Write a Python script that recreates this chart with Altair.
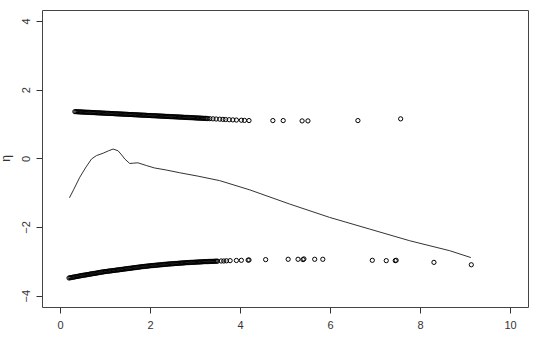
import altair as alt
import pandas as pd

# upper band of points (dense part then sparse tail)
top_x = [0.33,0.38,0.43,0.48,0.53,0.58,0.63,0.68,0.73,0.78,0.83,0.88,0.93,0.98,1.03,1.08,1.13,1.18,1.23,1.28,
         1.33,1.38,1.43,1.48,1.53,1.58,1.63,1.68,1.73,1.78,1.83,1.88,1.93,1.98,2.03,2.08,2.13,2.18,2.23,2.28,
         2.33,2.38,2.43,2.48,2.53,2.58,2.63,2.68,2.73,2.78,2.83,2.88,2.93,2.98,3.03,3.08,3.13,3.18,3.23,3.28,
         3.33,3.40,3.47,3.55,3.62,3.68,3.76,3.84,3.92,4.03,4.10,4.20,4.73,4.96,5.38,5.51,6.62,7.57]
top_y = [1.360,1.357,1.353,1.350,1.346,1.343,1.340,1.336,1.333,1.329,1.326,1.323,1.319,1.316,1.312,1.309,1.306,1.302,1.299,1.295,
         1.292,1.289,1.285,1.282,1.278,1.275,1.272,1.268,1.265,1.261,1.258,1.255,1.251,1.248,1.244,1.241,1.238,1.234,1.231,1.227,
         1.224,1.221,1.217,1.214,1.210,1.207,1.204,1.200,1.197,1.193,1.190,1.187,1.183,1.180,1.176,1.173,1.170,1.166,1.163,1.159,
         1.155,1.150,1.145,1.140,1.135,1.130,1.125,1.120,1.115,1.110,1.105,1.100,1.100,1.100,1.090,1.090,1.100,1.150]
# extra points filling the dense part of the upper band
top2_x = [0.355,0.405,0.455,0.505,0.555,0.605,0.655,0.705,0.755,0.805,0.855,0.905,0.955,1.005,1.055,1.105,1.155,1.205,1.255,1.305,
          1.355,1.405,1.455,1.505,1.555,1.605,1.655,1.705,1.755,1.805,1.855,1.905,1.955,2.005,2.055,2.105,2.155,2.205,2.255,2.305,
          2.355,2.405,2.455,2.505,2.555,2.605,2.655,2.705,2.755,2.805,2.855,2.905,2.955,3.005,3.055,3.105,3.155,3.205,3.255]
top2_y = [1.3585,1.355,1.3515,1.348,1.3445,1.3415,1.338,1.3345,1.331,1.3275,1.3245,1.321,1.3175,1.314,1.3105,1.3075,1.304,1.3005,1.297,1.2935,
          1.2905,1.287,1.2835,1.280,1.2765,1.2735,1.270,1.2665,1.263,1.2595,1.2565,1.253,1.2495,1.246,1.2425,1.2395,1.236,1.2325,1.229,1.2255,
          1.2225,1.219,1.2155,1.212,1.2085,1.2055,1.202,1.1985,1.195,1.1915,1.1885,1.185,1.1815,1.178,1.1745,1.1715,1.168,1.1645,1.161]

# lower band of points
bot_x = [0.20,0.25,0.30,0.35,0.40,0.45,0.50,0.55,0.60,0.65,0.70,0.75,0.80,0.85,0.90,0.95,1.00,1.05,1.10,1.15,
         1.20,1.25,1.30,1.35,1.40,1.45,1.50,1.55,1.60,1.65,1.70,1.75,1.80,1.85,1.90,1.95,2.00,2.05,2.10,2.15,
         2.20,2.25,2.30,2.35,2.40,2.45,2.50,2.55,2.60,2.65,2.70,2.75,2.80,2.85,2.90,2.95,3.00,3.05,3.10,3.15,
         3.20,3.25,3.30,3.35,3.40,3.45,3.50,
         3.58,3.64,3.70,3.78,3.92,4.03,4.18,4.20,4.57,5.07,5.29,5.40,5.42,5.66,5.84,6.94,7.25,7.45,7.47,8.31,9.14]
bot_y = [-3.485,-3.472,-3.460,-3.447,-3.435,-3.422,-3.410,-3.400,-3.390,-3.377,-3.365,-3.355,-3.345,-3.332,-3.320,-3.310,-3.300,-3.291,-3.282,-3.274,
         -3.265,-3.256,-3.248,-3.239,-3.230,-3.221,-3.212,-3.204,-3.195,-3.186,-3.178,-3.169,-3.160,-3.152,-3.145,-3.138,-3.130,-3.124,-3.118,-3.111,
         -3.105,-3.099,-3.092,-3.086,-3.080,-3.075,-3.070,-3.065,-3.060,-3.055,-3.050,-3.045,-3.040,-3.036,-3.032,-3.029,-3.025,-3.021,-3.018,-3.014,
         -3.010,-3.008,-3.005,-3.002,-3.000,-2.997,-2.995,
         -2.990,-2.990,-2.985,-2.980,-2.975,-2.970,-2.965,-2.960,-2.950,-2.940,-2.940,-2.950,-2.930,-2.940,-2.940,-2.970,-2.980,-2.980,-2.970,-3.030,-3.100]
# extra points filling the dense part of the lower band
bot2_x = [0.225,0.275,0.325,0.375,0.425,0.475,0.525,0.575,0.625,0.675,0.725,0.775,0.825,0.875,0.925,0.975,1.025,1.075,1.125,1.175,
          1.225,1.275,1.325,1.375,1.425,1.475,1.525,1.575,1.625,1.675,1.725,1.775,1.825,1.875,1.925,1.975,2.025,2.075,2.125,2.175,
          2.225,2.275,2.325,2.375,2.425,2.475,2.525,2.575,2.625,2.675,2.725,2.775,2.825,2.875,2.925,2.975,3.025,3.075,3.125,3.175,
          3.225,3.275,3.325,3.375,3.425,3.475]
bot2_y = [-3.4785,-3.466,-3.4535,-3.441,-3.4285,-3.416,-3.405,-3.395,-3.3835,-3.371,
          -3.360,-3.350,-3.3385,-3.326,-3.315,-3.305,-3.2955,-3.2865,-3.278,-3.2695,
          -3.2605,-3.252,-3.2435,-3.2345,-3.2255,-3.2165,-3.208,-3.1995,-3.1905,-3.182,
          -3.1735,-3.1645,-3.156,-3.1485,-3.1415,-3.134,-3.127,-3.121,-3.1145,-3.108,
          -3.102,-3.0955,-3.089,-3.083,-3.0775,-3.0725,-3.0675,-3.0625,-3.0575,-3.0525,
          -3.0475,-3.0425,-3.038,-3.034,-3.0305,-3.027,-3.023,-3.0195,-3.016,-3.012,
          -3.009,-3.0065,-3.0035,-3.001,-2.9985,-2.996]

# smooth curve
line_x = [0.21,0.30,0.44,0.58,0.70,0.81,0.96,1.08,1.18,1.29,1.37,1.44,1.55,1.64,1.73,1.92,2.10,2.36,2.66,3.07,
          3.55,4.22,5.10,5.99,6.88,7.77,8.66,9.13]
line_y = [-1.15,-0.92,-0.55,-0.25,-0.02,0.08,0.15,0.22,0.27,0.22,0.10,-0.02,-0.15,-0.14,-0.13,-0.21,-0.28,-0.34,-0.42,-0.52,
          -0.65,-0.92,-1.33,-1.72,-2.06,-2.40,-2.69,-2.89]

x_ticks = [0, 2, 4, 6, 8, 10]
y_ticks = [-4, -2, 0, 2, 4]

pts = pd.DataFrame({"x": top_x + top2_x + bot_x + bot2_x, "y": top_y + top2_y + bot_y + bot2_y})
ln = pd.DataFrame({"x": line_x, "y": line_y})

xs = alt.Scale(domain=[-0.4, 10.4], nice=False, zero=False)
ys = alt.Scale(domain=[-4.33, 4.32], nice=False, zero=False)

font = "Liberation Sans"
xaxis = alt.Axis(values=x_ticks, title=None, grid=False, domain=False, ticks=True, tickSize=6,
                 tickColor="#333333", labelColor="#333333", labelFont=font, labelFontSize=11,
                 labelBaseline="alphabetic", labelPadding=15, labelAlign="center")
yaxis = alt.Axis(values=y_ticks, title="η", grid=False, domain=False, ticks=True, tickSize=6,
                 tickColor="#333333", labelColor="#333333", labelFont=font, labelFontSize=11,
                 labelAngle=270, labelAlign="center", labelBaseline="alphabetic", labelPadding=7,
                 titleFont=font, titleFontSize=12, titleFontWeight="normal", titleColor="#333333",
                 titleAngle=270, titleX=-37, titleY=148, titleAlign="center", titleBaseline="middle")

points = alt.Chart(pts).mark_point(shape="circle", filled=False, color="black", size=18, strokeWidth=1, opacity=1).encode(
    x=alt.X("x:Q", scale=xs, axis=xaxis),
    y=alt.Y("y:Q", scale=ys, axis=yaxis),
)

curve = alt.Chart(ln).mark_line(color="#333333", strokeWidth=1).encode(
    x=alt.X("x:Q", scale=xs),
    y=alt.Y("y:Q", scale=ys),
)

chart = alt.layer(points, curve).properties(
    width=486, height=297,
    autosize=alt.AutoSizeParams(type="none"),
    padding={"left": 42, "top": 10, "right": 12, "bottom": 30},
    background="white",
).configure_view(stroke="#444444", strokeWidth=1)

chart.save("out.html", embed_options={"renderer": "svg", "actions": False})
